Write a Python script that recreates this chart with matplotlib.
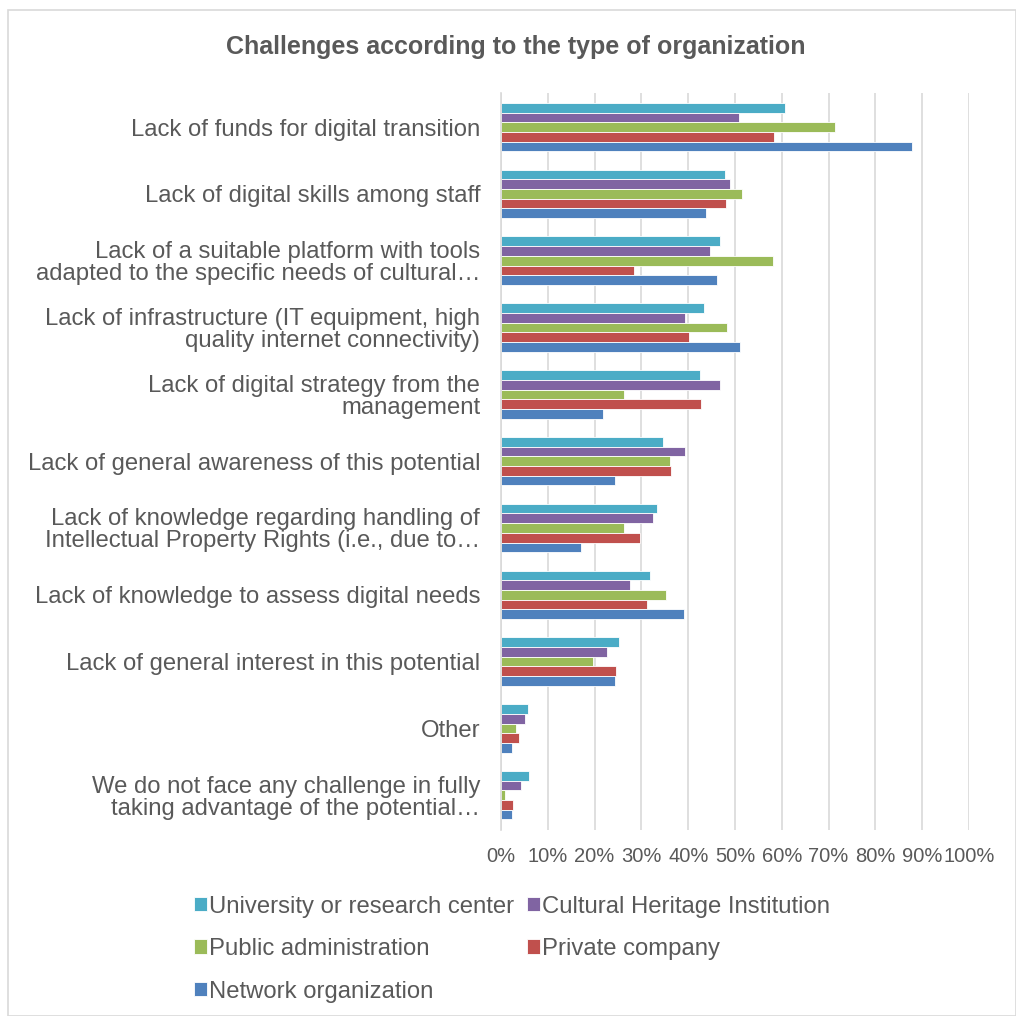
import matplotlib.pyplot as plt
import numpy as np
from matplotlib.patches import Rectangle

plt.rcParams['font.family'] = ['Liberation Sans', 'DejaVu Sans']

categories = [
    "Lack of funds for digital transition",
    "Lack of digital skills among staff",
    "Lack of a suitable platform with tools\nadapted to the specific needs of cultural…",
    "Lack of infrastructure (IT equipment, high\nquality internet connectivity)",
    "Lack of digital strategy from the\nmanagement",
    "Lack of general awareness of this potential",
    "Lack of knowledge regarding handling of\nIntellectual Property Rights (i.e., due to…",
    "Lack of knowledge to assess digital needs",
    "Lack of general interest in this potential",
    "Other",
    "We do not face any challenge in fully\ntaking advantage of the potential…",
]

series_names = [
    "University or research center",
    "Cultural Heritage Institution",
    "Public administration",
    "Private company",
    "Network organization",
]
colors = ["#4BACC6", "#8064A2", "#9BBB59", "#C0504D", "#4F81BD"]

university = [60.6, 47.9, 46.7, 43.3, 42.5, 34.7, 33.3, 31.8, 25.3, 5.7, 5.9]
heritage = [50.9, 48.9, 44.6, 39.3, 46.7, 39.4, 32.5, 27.6, 22.7, 5.1, 4.3]
public_admin = [71.4, 51.6, 58.1, 48.3, 26.2, 36.2, 26.2, 35.2, 19.7, 3.1, 0.9]
private = [58.4, 48.0, 28.4, 40.2, 42.8, 36.3, 29.8, 31.1, 24.6, 3.8, 2.5]
network = [87.8, 43.8, 46.2, 51.1, 21.9, 24.3, 17.0, 39.0, 24.4, 2.3, 2.3]

series = [university, heritage, public_admin, private, network]

text_color = "#595959"

fig = plt.figure(figsize=(10.16, 10.16), dpi=100)
ax = fig.add_axes([501 / 1016, 1 - 830 / 1016, 468 / 1016, 737 / 1016])

y = np.arange(len(categories))
h = 0.145
for i, (vals, name, c) in enumerate(zip(series, series_names, colors)):
    ax.barh(y + (i - 2) * h, vals, height=h, color=c, label=name,
            edgecolor="white", linewidth=0.6)

ax.set_xlim(0, 100)
ax.set_ylim(10.52, -0.51)
ax.set_xticks(np.arange(0, 101, 10))
ax.set_xticklabels([f"{v}%" for v in range(0, 101, 10)], fontsize=14.5,
                   color=text_color)
ax.set_yticks(y)
ax.set_yticklabels(categories, fontsize=17.2, color=text_color,
                   linespacing=1.0)
ax.tick_params(length=0, pad=15, axis="y")
ax.tick_params(length=0, pad=12, axis="x")
ax.grid(axis="x", color="#D9D9D9", linewidth=1.2)
ax.set_axisbelow(True)
for s in ["top", "right", "bottom"]:
    ax.spines[s].set_visible(False)
ax.spines["left"].set_color("#D9D9D9")
ax.spines["left"].set_linewidth(1.2)

fig.text(516 / 1016, 1 - 47 / 1016, "Challenges according to the type of organization",
         ha="center", va="center", fontsize=18, fontweight="bold", color=text_color)

# legend fills column-wise, so reorder to read row by row
handles, labels = ax.get_legend_handles_labels()
order = [0, 2, 4, 1, 3]
leg = fig.legend([handles[k] for k in order], [labels[k] for k in order],
                 ncol=2, loc="upper left",
                 bbox_to_anchor=(184 / 1016, 1 - 886 / 1016), frameon=False,
                 fontsize=17.2, handlelength=0.55, handleheight=0.55,
                 handletextpad=0.08, columnspacing=0.55, labelspacing=0.86,
                 borderaxespad=0)
for t in leg.get_texts():
    t.set_color(text_color)

fig.patches.append(Rectangle((8 / 1016, 0), 1 - 8 / 1016, 1 - 10 / 1016,
                             transform=fig.transFigure, fill=False,
                             edgecolor="#D9D9D9", linewidth=1.2))

fig.savefig("out.png", dpi=100)
